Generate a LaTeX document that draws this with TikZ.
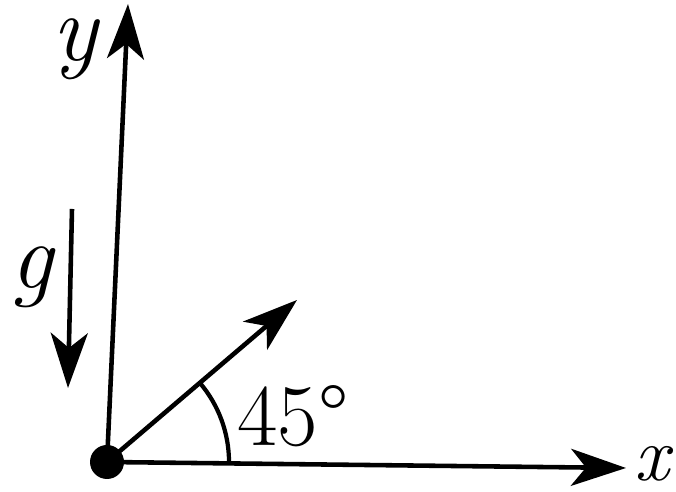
\documentclass[tikz,border=0pt]{standalone}
\usetikzlibrary{arrows.meta}
\tikzset{
  axis/.style={-{Stealth[length=11mm,width=7.4mm,inset=3mm]},line width=2.6pt},
  vec/.style={-{Stealth[length=11mm,width=7.4mm,inset=3mm]},line width=2.6pt},
  lbl/.style={font=\fontsize{54}{62}\selectfont\itshape,inner sep=0pt},
  anglbl/.style={font=\fontsize{50}{58}\selectfont,inner sep=0pt}
}
\begin{document}
\begin{tikzpicture}[x=0.02cm,y=0.02cm]
  \useasboundingbox (0,0) rectangle (676,492);
  % origin and axes
  \coordinate (o) at (107,30);
  \coordinate (ytip) at (128,488);
  \coordinate (xtip) at (626,24);
  \draw[axis] (o) -- (ytip);
  \draw[axis] (o) -- (xtip);
  \fill (o) circle (17);
  \node[lbl] (ylab) at (75,443) {y};
  \node[lbl,font=\fontsize{44}{52}\selectfont\itshape] (xlab) at (652,28) {x};
  % launch direction
  \coordinate (vtip) at (297,192);
  \draw[vec] (o) -- (vtip);
  \draw[line width=2.4pt] ([shift={(0:122)}]o) arc (0:40.5:122);
  \node[anglbl] (ang) at (293,76) {45°};
  % gravity
  \coordinate (gtop) at (72,283);
  \coordinate (gbot) at (68,104);
  \draw[vec] (gtop) -- (gbot);
  \node[lbl] (glab) at (32,215) {g};
\end{tikzpicture}
\end{document}
